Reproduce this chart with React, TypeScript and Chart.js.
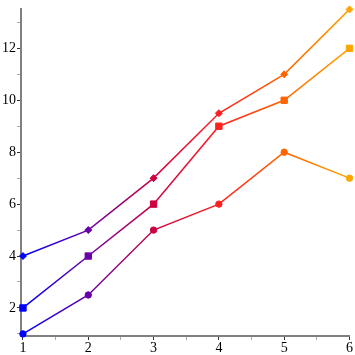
import React, { useEffect, useRef } from 'react';
import { Chart, registerables } from 'chart.js';

Chart.register(...registerables);

const xValues = [1, 2, 3, 4, 5, 6];
const diamondSeries = [4, 5, 7, 9.5, 11, 13.5];
const squareSeries = [2, 4, 6, 9, 10, 12];
const circleSeries = [1, 2.5, 5, 6, 8, 7];
const pointColors = ['#0000ff', '#6a00a8', '#cc0040', '#ff2020', '#ff6600', '#ffa500'];
const xTicks = [1, 1.5, 2, 2.5, 3, 3.5, 4, 4.5, 5, 5.5, 6];
const xLabels = [1, 2, 3, 4, 5, 6];
const yTicks = [1, 2, 3, 4, 5, 6, 7, 8, 9, 10, 11, 12, 13];
const yLabels = [2, 4, 6, 8, 10, 12];

const AXIS = '#808080';
const FONT = { family: 'Liberation Serif', size: 14 };

function lineGradient(c: any) {
  const chart = c.chart;
  const xs = chart.scales && chart.scales.x;
  if (!chart.chartArea || !xs) return pointColors[0];
  const x0 = xs.getPixelForValue(xValues[0]);
  const x1 = xs.getPixelForValue(xValues[xValues.length - 1]);
  const g = chart.ctx.createLinearGradient(x0, 0, x1, 0);
  xValues.forEach((v, i) => {
    g.addColorStop((xs.getPixelForValue(v) - x0) / (x1 - x0), pointColors[i]);
  });
  return g;
}

function makeSet(values: number[], style: string, radius: number) {
  return {
    data: values.map((y, i) => ({ x: xValues[i], y })),
    borderColor: lineGradient,
    borderWidth: 1.5,
    pointStyle: style,
    pointRadius: radius,
    pointBorderWidth: 1,
    pointBackgroundColor: pointColors,
    pointBorderColor: pointColors,
    tension: 0,
    clip: false,
  };
}

export default function App() {
  const ref = useRef<HTMLCanvasElement>(null);
  useEffect(() => {
    if (!ref.current) return;
    const chart = new Chart(ref.current, {
      type: 'line',
      data: {
        datasets: [
          makeSet(diamondSeries, 'rectRot', 3.5),
          makeSet(squareSeries, 'rect', 4.5),
          makeSet(circleSeries, 'circle', 3.2),
        ] as any,
      },
      options: {
        animation: false,
        responsive: false,
        layout: { padding: { top: 9, right: 5, left: 0, bottom: 0 } },
        plugins: { legend: { display: false }, tooltip: { enabled: false } },
        scales: {
          x: {
            type: 'linear',
            min: 0.97,
            max: 6,
            afterBuildTicks: (s: any) => {
              s.ticks = xTicks.map((v) => ({ value: v }));
            },
            afterFit: (s: any) => {
              s.height = 19;
            },
            ticks: {
              autoSkip: false,
              maxRotation: 0,
              padding: 0,
              color: '#000',
              font: FONT,
              callback: (v: any) => (xLabels.includes(v) ? String(v) : ''),
            },
            grid: {
              drawOnChartArea: false,
              tickLength: 4,
              tickColor: (c: any) => (xLabels.includes(c.tick?.value) ? '#333' : '#aaa'),
              tickWidth: 1,
            },
            border: { color: AXIS, width: 2 },
          },
          y: {
            type: 'linear',
            min: 0.92,
            max: 13.5,
            afterBuildTicks: (s: any) => {
              s.ticks = yTicks.map((v) => ({ value: v }));
            },
            afterFit: (s: any) => {
              s.width = 21;
            },
            ticks: {
              autoSkip: false,
              padding: 1,
              color: '#000',
              font: FONT,
              callback: (v: any) => (yLabels.includes(v) ? String(v) : ''),
            },
            grid: {
              drawOnChartArea: false,
              tickLength: 4,
              tickColor: (c: any) => (yLabels.includes(c.tick?.value) ? '#333' : '#aaa'),
              tickWidth: 1,
            },
            border: { color: AXIS, width: 2 },
          },
        },
      } as any,
    });
    return () => chart.destroy();
  }, []);
  return (
    <div style={{ position: 'absolute', left: 0, top: 0, width: 355, height: 355, background: '#fff' }}>
      <canvas ref={ref} width={355} height={355} style={{ width: 355, height: 355 }} />
    </div>
  );
}
